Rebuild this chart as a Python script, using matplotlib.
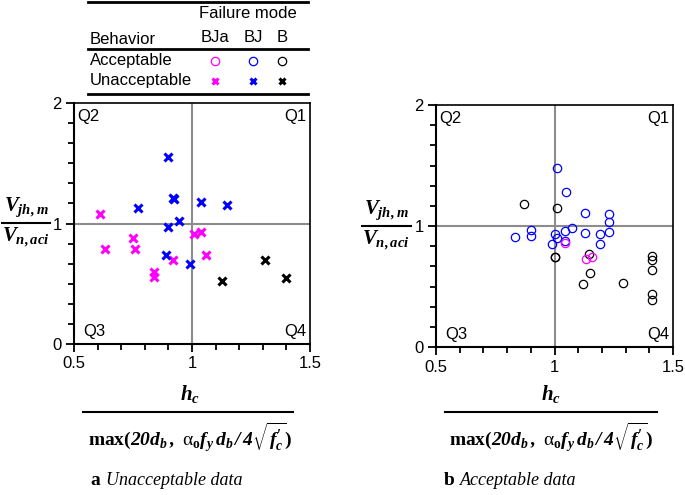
import matplotlib
matplotlib.use('Agg')
import matplotlib.pyplot as plt
from matplotlib.lines import Line2D
from matplotlib.ticker import MultipleLocator
import numpy as np

plt.rcParams['font.family'] = ['Liberation Sans', 'DejaVu Sans']
plt.rcParams['mathtext.fontset'] = 'custom'
plt.rcParams['mathtext.it'] = 'Liberation Serif:bold:italic'
plt.rcParams['mathtext.rm'] = 'Liberation Serif:bold:italic'
plt.rcParams['mathtext.bf'] = 'Liberation Serif:bold'
plt.rcParams['mathtext.sf'] = 'Liberation Serif'

# (a) unacceptable data, by failure mode
unacc_bja_x = [0.61, 0.63, 0.75, 0.76, 0.84, 0.84, 0.92, 1.01, 1.04, 1.06]
unacc_bja_y = [1.08, 0.79, 0.88, 0.79, 0.60, 0.56, 0.70, 0.91, 0.93, 0.74]
unacc_bj_x = [0.90, 0.92, 0.925, 0.77, 1.04, 1.15, 0.945, 0.90, 0.89, 0.99]
unacc_bj_y = [1.55, 1.21, 1.20, 1.13, 1.18, 1.15, 1.02, 0.97, 0.74, 0.66]
unacc_b_x = [1.125, 1.31, 1.40]
unacc_b_y = [0.52, 0.70, 0.55]

# (b) acceptable data, by failure mode
acc_bj_x = [1.01, 1.05, 1.13, 1.23, 1.23, 1.23, 1.19, 1.19, 1.13, 1.075,
            1.045, 1.045, 0.90, 0.90, 0.835, 1.0, 1.01, 0.99]
acc_bj_y = [1.48, 1.28, 1.11, 1.10, 1.03, 0.95, 0.93, 0.85, 0.94, 0.98,
            0.96, 0.88, 0.97, 0.92, 0.91, 0.93, 0.90, 0.85]
acc_b_x = [0.87, 1.01, 1.0, 1.0, 1.145, 1.15, 1.12, 1.29, 1.41, 1.41, 1.41, 1.41, 1.41]
acc_b_y = [1.18, 1.15, 0.74, 0.745, 0.765, 0.61, 0.52, 0.53, 0.75, 0.72, 0.64, 0.44, 0.39]
acc_bja_x = [1.045, 1.135, 1.16]
acc_bja_y = [0.86, 0.73, 0.74]

modes = ['BJa', 'BJ', 'B']
mode_colors = ['#ff00ff', '#0000ff', '#000000']
quadrants = ['Q1', 'Q2', 'Q3', 'Q4']

W, H = 685, 495
fig = plt.figure(figsize=(W / 100, H / 100), dpi=100)


def fx(px):
    return px / W


def fy(py):
    return 1 - py / H


def hline(x0, x1, y, lw=1.6, color='black'):
    fig.add_artist(Line2D([fx(x0), fx(x1)], [fy(y), fy(y)], color=color, lw=lw,
                          transform=fig.transFigure))


def setup_axes(rect):
    ax = fig.add_axes(rect)
    ax.set_xlim(0.5, 1.5)
    ax.set_ylim(0, 2)
    ax.set_xticks([0.5, 1, 1.5])
    ax.set_xticklabels(['0.5', '1', '1.5'])
    ax.set_yticks([0, 1, 2])
    ax.set_yticklabels(['0', '1', '2'])
    ax.xaxis.set_minor_locator(MultipleLocator(0.1))
    ax.yaxis.set_minor_locator(MultipleLocator(1 / 6))
    ax.tick_params(which='both', direction='out', width=1.3, labelsize=12, colors='black')
    ax.tick_params(which='major', length=6, pad=3)
    ax.tick_params(which='minor', length=4)
    for s in ax.spines.values():
        s.set_linewidth(1.5)
    ax.spines['top'].set_linewidth(1.2)
    ax.spines['right'].set_linewidth(1.2)
    ax.axhline(1, color='#8c8c8c', lw=1.5, zorder=1)
    ax.axvline(1, color='#8c8c8c', lw=1.5, zorder=1)
    pos = {'Q1': (0.985, 0.975, 'right', 'top'), 'Q2': (0.015, 0.975, 'left', 'top'),
           'Q3': (0.04, 0.02, 'left', 'bottom'), 'Q4': (0.985, 0.02, 'right', 'bottom')}
    for q in quadrants:
        x, y, ha, va = pos[q]
        ax.text(x, y, q, transform=ax.transAxes, ha=ha, va=va, fontsize=12)
    return ax


axL = setup_axes([fx(74), fy(344), fx(310) - fx(74), fy(103) - fy(344)])
axR = setup_axes([fx(436), fy(347), fx(673) - fx(436), fy(105) - fy(347)])

# unacceptable -> crosses
for xs, ys, c in zip([unacc_bja_x, unacc_bj_x, unacc_b_x],
                     [unacc_bja_y, unacc_bj_y, unacc_b_y], mode_colors):
    axL.plot(xs, ys, 'x', color=c, ms=5.5, mew=2.2, zorder=3)

# acceptable -> open circles
for xs, ys, c in zip([acc_bj_x, acc_b_x, acc_bja_x],
                     [acc_bj_y, acc_b_y, acc_bja_y],
                     [mode_colors[1], mode_colors[2], mode_colors[0]]):
    axR.plot(xs, ys, 'o', mfc='none', mec=c, ms=6, mew=0.9, zorder=3)

# fraction-style axis labels
num_y = r'$V_{jh,m}$'
den_y = r'$V_{n,aci}$'
num_x = r'$h_c$'
den_x = (r'$\mathbf{max(}20d_b\,,\ \mathsf{\alpha}_{\mathbf{o}}f_y\,d_b'
         r'\,/\,4\sqrt{f_c^{\prime}}\mathbf{)}$')

for cx, x0, x1, ly in [(26, 2, 50, 223), (386, 362, 411, 226)]:
    fig.text(fx(cx), fy(ly - 4), num_y, ha='center', va='bottom', fontsize=15)
    hline(x0, x1, ly, lw=1.5)
    fig.text(fx(cx), fy(ly + 3), den_y, ha='center', va='top', fontsize=15)

for cx, x0, x1 in [(190, 83, 293), (551, 445, 657)]:
    fig.text(fx(cx), fy(405), num_x, ha='center', va='bottom', fontsize=15)
    hline(x0, x1, 412, lw=1.5)
    fig.text(fx(cx), fy(420), den_x, ha='center', va='top', fontsize=14)

# panel captions
for px, letter, cap in [(90, 'a', 'Unacceptable data'), (444, 'b', 'Acceptable data')]:
    fig.text(fx(px), fy(485), letter, ha='left', va='baseline', fontsize=14,
             family='Liberation Serif', weight='bold')
    fig.text(fx(px + 16), fy(485), cap, ha='left', va='baseline', fontsize=13,
             family='Liberation Serif', style='italic')

# legend table
hline(88, 308, 2, lw=2)
hline(88, 308, 49, lw=2)
hline(88, 308, 94, lw=2)
fig.text(fx(248), fy(14), 'Failure mode', ha='center', va='center', fontsize=12)
fig.text(fx(90), fy(40), 'Behavior', ha='left', va='center', fontsize=12)
col_x = [215, 253, 282]
for m, cx in zip(modes, col_x):
    fig.text(fx(cx), fy(37), m, ha='center', va='center', fontsize=12)
fig.text(fx(90), fy(61), 'Acceptable', ha='left', va='center', fontsize=12)
fig.text(fx(90), fy(81), 'Unacceptable', ha='left', va='center', fontsize=12)
for c, cx in zip(mode_colors, col_x):
    fig.add_artist(Line2D([fx(cx)], [fy(61)], marker='o', mfc='none', mec=c, ms=6,
                          mew=0.9, transform=fig.transFigure))
    fig.add_artist(Line2D([fx(cx)], [fy(81)], marker='x', color=c, ms=5, mew=2.2,
                          transform=fig.transFigure))

fig.savefig('out.png', dpi=100)
